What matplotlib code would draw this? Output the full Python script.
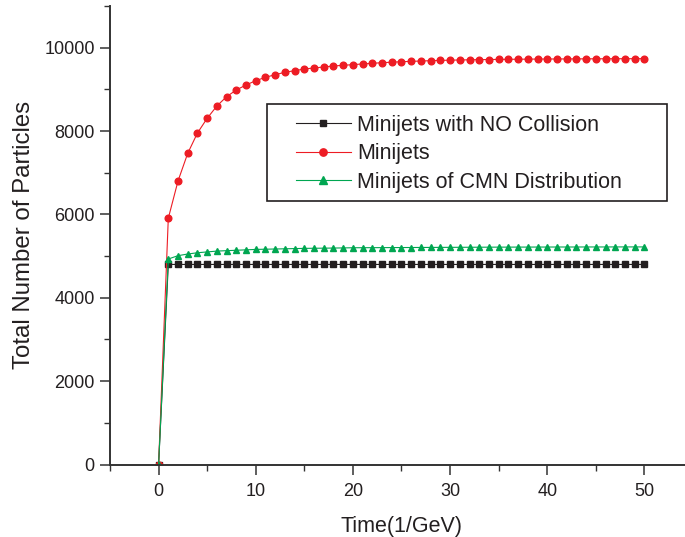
import numpy as np
import matplotlib.pyplot as plt
from matplotlib.patches import Rectangle
from matplotlib.ticker import MultipleLocator

plt.rcParams["font.family"] = ["Liberation Sans", "DejaVu Sans"]

# particle counts sampled at integer times 0..50 (1/GeV)
time = list(range(0, 51))

no_collision = [0] + [4800] * 50

minijets = [
    0, 5907, 6802, 7466, 7953, 8306, 8601, 8825, 8985, 9105,
    9208, 9289, 9352, 9410, 9448, 9489, 9513, 9537, 9561, 9577,
    9593, 9610, 9625, 9640, 9652, 9663, 9672, 9680, 9688, 9695,
    9700, 9705, 9709, 9713, 9716, 9719, 9721, 9723, 9725, 9727,
    9728, 9729, 9730, 9731, 9732, 9733, 9734, 9735, 9735, 9736,
    9737,
]

cmn_dist = [
    0, 4930, 5010, 5050, 5080, 5100, 5120, 5130, 5140, 5150,
    5160, 5165, 5170, 5175, 5180, 5185, 5188, 5190, 5193, 5196,
    5200, 5201, 5202, 5203, 5204, 5205, 5206, 5207, 5208, 5209,
    5210, 5211, 5212, 5213, 5214, 5215, 5215, 5216, 5216, 5217,
    5217, 5218, 5218, 5218, 5219, 5219, 5219, 5220, 5220, 5220,
    5220,
]

labels = ["Minijets with NO Collision", "Minijets", "Minijets of CMN Distribution"]

text_col = "#231f20"
W, H = 685, 537
fig = plt.figure(figsize=(W / 100, H / 100), dpi=100)
ax = fig.add_axes([110 / W, 72.5 / H, 583 / W, 458.5 / H])

ax.plot(time, no_collision, color="#231f20", lw=0.8, marker="s", ms=3.8,
        mec="#231f20", mfc="#231f20", label=labels[0])
ax.plot(time, minijets, color="#ed1c24", lw=0.8, marker="o", ms=4.8,
        mec="#ed1c24", mfc="#ed1c24", label=labels[1])
ax.plot(time, cmn_dist, color="#00a651", lw=0.8, marker="^", ms=4.8,
        mec="#00a651", mfc="#00a651", label=labels[2])

ax.set_xlim(-5, 55)
ax.set_ylim(0, 11000)
ax.xaxis.set_major_locator(MultipleLocator(10))
ax.xaxis.set_minor_locator(MultipleLocator(5))
ax.yaxis.set_major_locator(MultipleLocator(2000))
ax.yaxis.set_minor_locator(MultipleLocator(1000))
ax.set_xticks(range(0, 51, 10))

for side in ("top", "right"):
    ax.spines[side].set_visible(False)
for side in ("left", "bottom"):
    ax.spines[side].set_color("#333333")
    ax.spines[side].set_linewidth(1.4)

ax.tick_params(which="major", direction="out", length=7, width=1.1,
               color="#333333", labelsize=13, labelcolor=text_col, pad=4)
ax.tick_params(axis="x", which="major", pad=6)
ax.tick_params(which="minor", direction="out", length=4, width=1.0, color="#333333")

ax.set_xlabel("Time(1/GeV)", fontsize=15.5, color=text_col, labelpad=12)
ax.set_ylabel("Total Number of Particles", fontsize=17.3, color=text_col, labelpad=7)

# legend box drawn separately so it can be wider than its entries
fig.add_artist(Rectangle((267 / W, 1 - 201 / H), 400 / W, 97 / H,
                         transform=fig.transFigure, fill=False,
                         edgecolor=text_col, lw=1.2, zorder=5))
leg = ax.legend(loc="upper left", bbox_to_anchor=(296 / W, 1 - 114.5 / H),
                bbox_transform=fig.transFigure, borderaxespad=0, borderpad=0,
                fontsize=15.5, frameon=False, handlelength=2.55,
                handletextpad=0.28, labelspacing=0.36, markerscale=1.1)
for t in leg.get_texts():
    t.set_color(text_col)

fig.savefig("out.png", dpi=100)
